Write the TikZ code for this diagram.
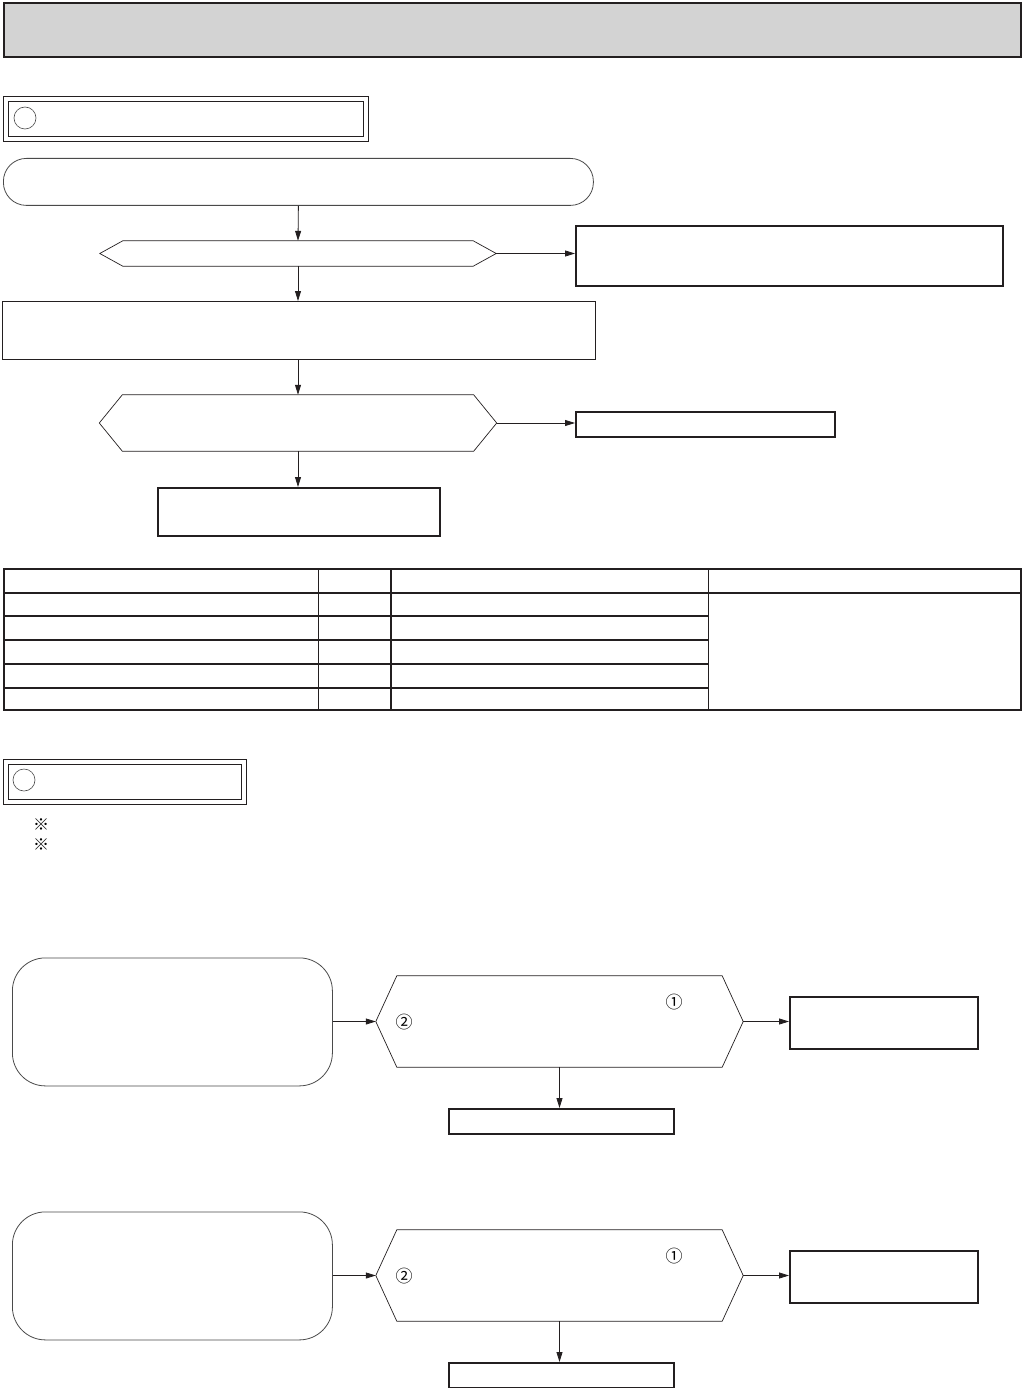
\documentclass[tikz,border=0pt]{standalone}
\usepackage{fontspec}
\newfontfamily\cjk{Noto Sans CJK JP}
\usepackage{xcolor}
\definecolor{inkblack}{HTML}{231F20}
\definecolor{titlegray}{HTML}{D3D3D3}
\definecolor{softline}{HTML}{4A4A4A}
\usetikzlibrary{positioning, arrows.meta}

\tikzset{
  box/.style={draw=inkblack, line width=0.9pt, inner sep=0pt, anchor=north west},
  boldbox/.style={box, line width=2pt},
  roundbox/.style={box, draw=softline, line width=0.8pt},
  hexmid/.style={inner sep=0pt},
  hexline/.style={draw=inkblack, line width=0.7pt},
  flow/.style={draw=inkblack, line width=0.8pt, -{Triangle[length=10pt, width=6pt]}},
  symtext/.style={font=\cjk\fontsize{17}{18}\selectfont, inner sep=0pt}
}

\begin{document}
\begin{tikzpicture}[x=1pt, y=-1pt]
  \useasboundingbox (0,0) rectangle (1023,1388);

  % title bar
  \node[box, fill=titlegray, line width=2pt, minimum width=1017pt, minimum height=54pt] (title) at (3,2) {};

  % section A heading
  \node[box, line width=1pt, minimum width=365pt, minimum height=45pt] (headA) at (3,96) {};
  \node[box, line width=1.2pt, minimum width=355pt, minimum height=35pt] (headAin) at (8,101) {};
  \node[draw=softline, line width=0.6pt, circle, minimum size=22pt, inner sep=0pt] (circA) at (25,118) {};

  % flow A
  \node[roundbox, rounded corners=23pt, minimum width=590pt, minimum height=47pt] (start) at (3,158) {};
  \node[hexmid, minimum width=350pt, minimum height=25pt] (d1) at (298,253.5) {};
  \draw[hexline] (d1.north west) -- (d1.north east) -- ([xshift=23pt]d1.east) -- (d1.south east)
    -- (d1.south west) -- ([xshift=-23pt]d1.west) -- cycle;
  \node[boldbox, minimum width=427pt, minimum height=60pt] (fix1) at (575,225) {};
  \node[box, minimum width=593pt, minimum height=58pt] (check) at (1.5,301) {};
  \node[hexmid, minimum width=351pt, minimum height=56pt] (d2) at (298,423) {};
  \draw[hexline] (d2.north west) -- (d2.north east) -- ([xshift=23pt]d2.east) -- (d2.south east)
    -- (d2.south west) -- ([xshift=-23pt]d2.west) -- cycle;
  \node[boldbox, minimum width=259pt, minimum height=25pt] (fix2) at (575,411) {};
  \node[boldbox, minimum width=282pt, minimum height=48pt] (done) at (157,487) {};

  \draw[flow] (start.south) -- (d1.north);
  \draw[flow] ([xshift=23pt]d1.east) -- (d1.east -| fix1.west);
  \draw[flow] (d1.south) -- (d1.south |- check.north);
  \draw[flow] (d2.north |- check.south) -- (d2.north);
  \draw[flow] ([xshift=23pt]d2.east) -- (d2.east -| fix2.west);
  \draw[flow] (d2.south) -- (d2.south |- done.north);

  % table
  \draw[inkblack, line width=2pt] (4,569) rectangle (1021,710);
  \draw[inkblack, line width=1.6pt] (4,593) -- (1021,593);
  \foreach \y in {616,640,664,688}
    \draw[inkblack, line width=1.2pt] (4,\y) -- (708,\y);
  \draw[inkblack, line width=0.6pt] (318,569) -- (318,710);
  \draw[inkblack, line width=1.4pt] (391,569) -- (391,710);
  \draw[inkblack, line width=0.8pt] (708,569) -- (708,710);

  % section B heading
  \node[box, line width=1pt, minimum width=243pt, minimum height=45pt] (headB) at (3,759) {};
  \node[box, line width=1.2pt, minimum width=233pt, minimum height=35pt] (headBin) at (8,764) {};
  \node[draw=softline, line width=0.6pt, circle, minimum size=22pt, inner sep=0pt] (circB) at (24,780) {};
  \node[symtext, font=\cjk\fontsize{16}{17}\selectfont] (note1) at (41,825) {※};
  \node[symtext, font=\cjk\fontsize{16}{17}\selectfont] (note2) at (41,845) {※};

  % flow B, two checks
  \foreach \dy [count=\n] in {0,254} {
    \node[roundbox, rounded corners=33pt, minimum width=320pt, minimum height=128pt] (src\n) at (12,957.5+\dy) {};
    \node[hexmid, minimum width=325pt, minimum height=91pt] (dec\n) at (559.5,1021.5+\dy) {};
    \draw[hexline] (dec\n.north west) -- (dec\n.north east) -- ([xshift=21pt]dec\n.east) -- (dec\n.south east)
      -- (dec\n.south west) -- ([xshift=-21pt]dec\n.west) -- cycle;
    \node[symtext] (one\n) at (674,1002+\dy) {①};
    \node[symtext] (two\n) at (404,1022+\dy) {②};
    \node[boldbox, minimum width=188pt, minimum height=52pt] (ng\n) at (789,995.5+\dy) {};
    \node[boldbox, minimum width=225pt, minimum height=25pt] (ok\n) at (448,1108+\dy) {};
    \draw[flow] (src\n.east |- dec\n.west) -- ([xshift=-21pt]dec\n.west);
    \draw[flow] ([xshift=21pt]dec\n.east) -- (dec\n.east -| ng\n.west);
    \draw[flow] (dec\n.south) -- (dec\n.south |- ok\n.north);
  }
\end{tikzpicture}
\end{document}
